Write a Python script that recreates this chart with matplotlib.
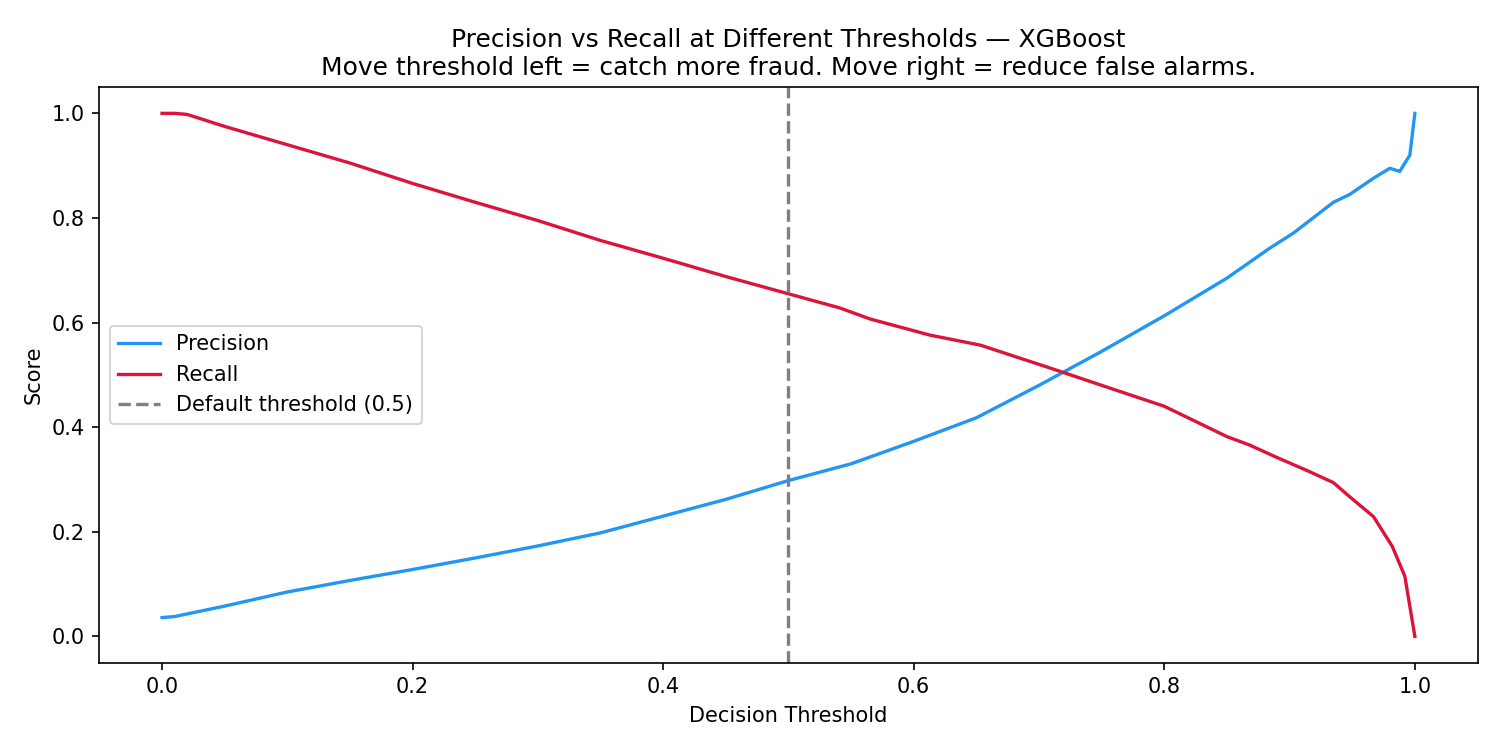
import matplotlib

matplotlib.use("Agg")
import matplotlib.pyplot as plt

# values
prec_thresh = [0.0, 0.01, 0.05, 0.1, 0.15, 0.2, 0.25, 0.3, 0.35, 0.4, 0.45, 0.5,
               0.55, 0.6, 0.65, 0.7, 0.75, 0.8, 0.85, 0.884, 0.903, 0.916, 0.935,
               0.948, 0.967, 0.98, 0.988, 0.992, 0.996, 0.998, 1.0]
precision = [0.036, 0.038, 0.058, 0.085, 0.107, 0.128, 0.150, 0.173, 0.198, 0.230,
             0.262, 0.298, 0.330, 0.373, 0.418, 0.480, 0.545, 0.613, 0.685, 0.742,
             0.771, 0.795, 0.830, 0.845, 0.876, 0.895, 0.889, 0.905, 0.920, 0.960, 1.0]

rec_thresh = [0.0, 0.01, 0.02, 0.05, 0.1, 0.15, 0.2, 0.25, 0.3, 0.35, 0.4, 0.45,
              0.5, 0.541, 0.565, 0.613, 0.653, 0.709, 0.75, 0.8, 0.85, 0.868, 0.89,
              0.916, 0.935, 0.948, 0.967, 0.982, 0.992, 1.0]
recall = [1.0, 1.0, 0.998, 0.975, 0.94, 0.905, 0.866, 0.83, 0.795, 0.757, 0.723,
          0.688, 0.655, 0.628, 0.607, 0.576, 0.557, 0.513, 0.48, 0.44, 0.382, 0.366,
          0.342, 0.315, 0.294, 0.267, 0.229, 0.172, 0.115, 0.0]

default_threshold = 0.5

fig, ax = plt.subplots(figsize=(10, 5))
ax.plot(prec_thresh, precision, color="#2196F3", lw=1.6, label="Precision")
ax.plot(rec_thresh, recall, color="crimson", lw=1.6, label="Recall")
ax.axvline(default_threshold, color="gray", linestyle="--", lw=1.6,
           label=f"Default threshold ({default_threshold})")
ax.set_title("Precision vs Recall at Different Thresholds \u2014 XGBoost\n"
             "Move threshold left = catch more fraud. Move right = reduce false alarms.")
ax.set_xlabel("Decision Threshold")
ax.set_ylabel("Score")
ax.legend(loc="center left")
fig.tight_layout()
fig.savefig("out.png", dpi=150)
plt.close(fig)
